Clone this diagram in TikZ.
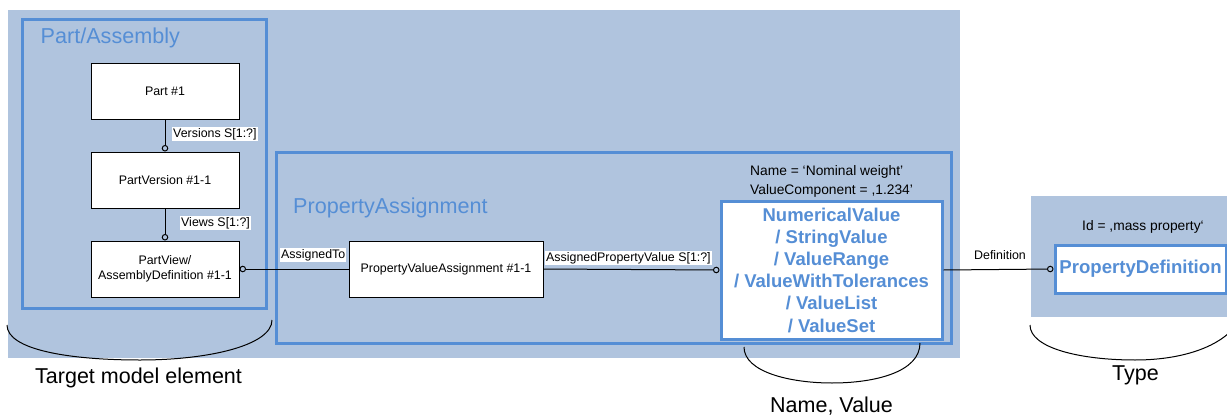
\documentclass[tikz,border=0pt]{standalone}
\usepackage{fontspec}
\setmainfont{Liberation Sans}
\usetikzlibrary{arrows.meta}
\definecolor{panelc}{RGB}{176,196,222}
\definecolor{blueb}{RGB}{85,142,213}
\tikzset{
  whitebox/.style={draw=black, line width=1pt, fill=white, minimum width=148pt, minimum height=56pt, inner sep=2pt, font=\fontsize{12.4}{14.5}\selectfont, align=center},
  grouptitle/.style={text=blueb, font=\fontsize{21.6}{24}\selectfont, inner sep=0pt, anchor=base west},
  rolelabel/.style={fill=white, inner sep=1pt, font=\fontsize{12.4}{14}\selectfont, anchor=west},
  annot/.style={inner sep=0pt, font=\fontsize{13.8}{16}\selectfont, anchor=west},
  bigcap/.style={inner sep=0pt, font=\fontsize{21.5}{24}\selectfont, anchor=base west},
  conn/.style={line width=1pt, -{Circle[length=6.5pt, fill=panelc, line width=1pt]}},
  grp/.style={draw=blueb, line width=3pt},
  bracecurve/.style={line width=1pt}
}
\begin{document}
\begin{tikzpicture}[x=1pt,y=-1pt]
\useasboundingbox (0,0) rectangle (1227,415);
% panels
\fill[panelc] (8,10) rectangle (960,358);
\fill[panelc] (1031,196) rectangle (1240,317);
% group frames
\draw[grp] (22,19) rectangle (266,308);
\draw[grp] (276,152) rectangle (951,343);
\node[grouptitle] (tpa) at (40.5,43) {Part/Assembly};
\node[grouptitle] (tpas) at (293,213.5) {PropertyAssignment};
% boxes
\node[whitebox] (p1) at (165,91) {Part \#1};
\node[whitebox] (pv) at (165,180) {PartVersion \#1-1};
\node[whitebox] (pw) at (165,269) {PartView/\\AssemblyDefinition \#1-1};
\node[whitebox, minimum width=194pt] (pva) at (446,269) {PropertyValueAssignment \#1-1};
\node[draw=blueb, line width=3pt, fill=white, minimum width=221pt, minimum height=138pt, inner sep=0pt,
      text=blueb, align=center, font=\bfseries\fontsize{18.5}{22.2}\selectfont] (val) at (831.5,270)
  {NumericalValue\\/ StringValue\\/ ValueRange\\/ ValueWithTolerances\\/ ValueList\\/ ValueSet};
\node[draw=blueb, line width=3pt, fill=white, minimum width=171pt, minimum height=48pt, inner sep=0pt,
      text=blueb, font=\bfseries\fontsize{18.6}{21}\selectfont] (pd) at (1140.5,269) {PropertyDefinition};
% annotations
\node[annot] (an1) at (750,172) {Name = ‘Nominal weight’};
\node[annot] (an2) at (750,191) {ValueComponent = ,1.234’};
\node[annot] (an3) at (1082,227) {Id = ,mass property‘};
% connectors
\draw[conn] (p1.south) -- (pv.north);
\draw[conn] (pv.south) -- (pw.north);
\draw[conn] (pva.west) -- (pw.east);
\draw[conn] (pva.east) -- (val.west);
\draw[conn] (val.east) -- (pd.west);
\node[rolelabel] (l1) at (172,134) {Versions S[1:?]};
\node[rolelabel] (l2) at (180,223) {Views S[1:?]};
\node[rolelabel] (l3) at (280,255) {AssignedTo};
\node[rolelabel] (l4) at (545,258) {AssignedPropertyValue S[1:?]};
\node[inner sep=0pt, font=\fontsize{12.4}{14}\selectfont] (l5) at (1000,255) {Definition};
% braces
\draw[bracecurve] (7,325) .. controls (7,350) and (70,360) .. (140,360) .. controls (210,360) and (272,345) .. (272,320);
\draw[bracecurve] (744,347) .. controls (744,372) and (790,383) .. (832,383) .. controls (875,383) and (920,372) .. (920,343);
\draw[bracecurve] (1030,325) .. controls (1030,348) and (1080,360) .. (1135,360) .. controls (1180,360) and (1215,348) .. (1232,330);
\node[bigcap] (c1) at (35,383.5) {Target model element};
\node[bigcap] (c2) at (770,412) {Name, Value};
\node[bigcap] (c3) at (1112,380) {Type};
\end{tikzpicture}
\end{document}
